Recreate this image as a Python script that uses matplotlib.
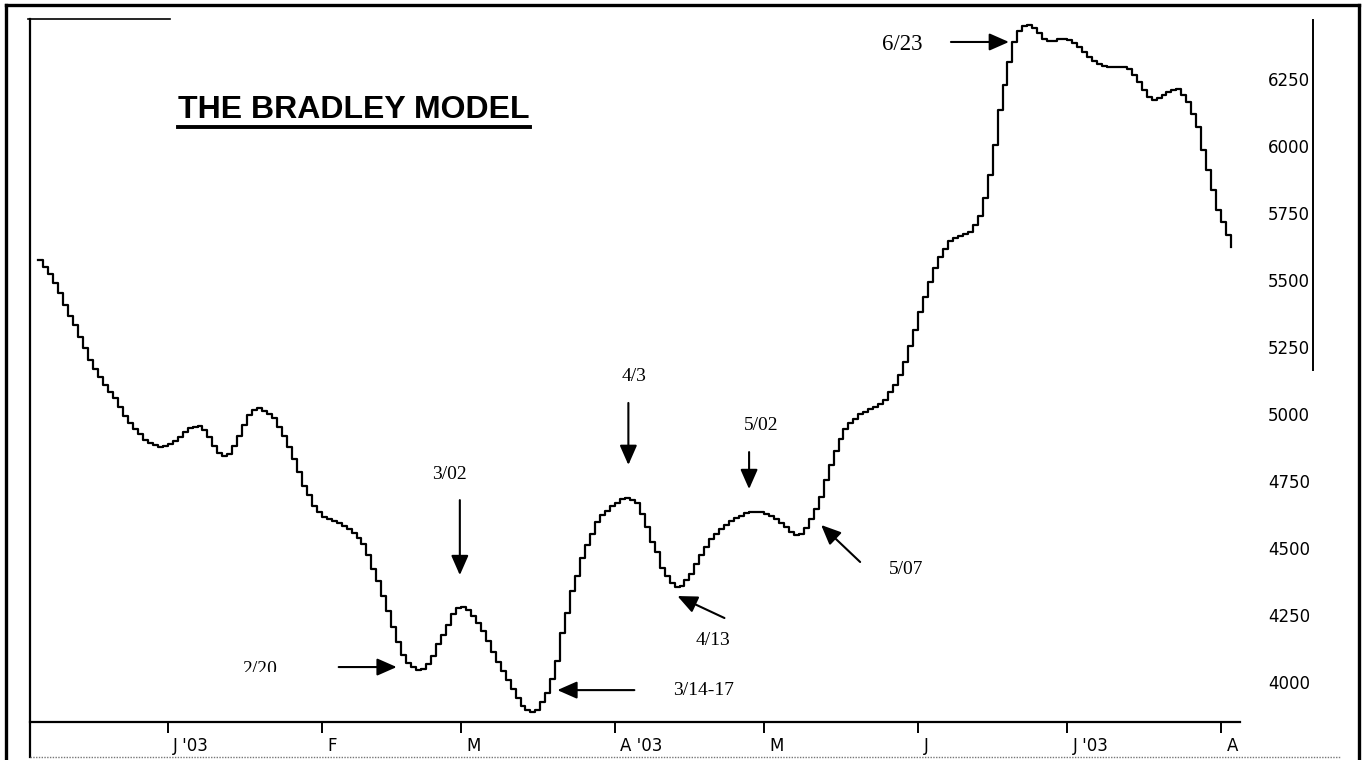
import numpy as np
import pandas as pd
import matplotlib
matplotlib.use("Agg")
import matplotlib.pyplot as plt
import matplotlib.dates as mdates
import matplotlib.transforms as mtrans
from matplotlib.lines import Line2D
from matplotlib.transforms import Bbox, TransformedBbox

# Bradley model values, one per calendar day, starting 2002-12-06
dec_2002 = [5575, 5548, 5522, 5489, 5451, 5407, 5366, 5332, 5287, 5246, 5201, 5168, 5138,
            5108, 5082, 5060, 5026, 4992, 4966, 4944, 4925, 4903, 4892, 4884, 4877, 4880]
jan_2003 = [4888, 4899, 4914, 4932, 4947, 4951, 4955, 4940, 4914, 4880, 4854, 4843, 4851,
            4880, 4918, 4959, 4996, 5015, 5022, 5011, 5000, 4985, 4951, 4918, 4877, 4832,
            4783, 4731, 4698, 4657, 4634]
feb_2003 = [4616, 4608, 4601, 4593, 4582, 4571, 4556, 4537, 4515, 4474, 4422, 4377, 4321,
            4265, 4205, 4149, 4101, 4071, 4056, 4045, 4048, 4067, 4097, 4142, 4175, 4213,
            4254, 4276]
mar_2003 = [4280, 4269, 4247, 4221, 4191, 4153, 4112, 4075, 4041, 4008, 3974, 3941, 3911,
            3896, 3888, 3896, 3925, 3959, 4011, 4078, 4183, 4257, 4340, 4395, 4463, 4511,
            4552, 4597, 4623, 4638, 4657]
apr_2003 = [4668, 4683, 4686, 4679, 4668, 4627, 4578, 4522, 4485, 4425, 4395, 4369, 4354,
            4358, 4380, 4402, 4440, 4474, 4504, 4533, 4552, 4571, 4586, 4601, 4612, 4619,
            4631, 4634, 4634, 4634]
may_2003 = [4626, 4619, 4608, 4593, 4578, 4560, 4549, 4552, 4575, 4608, 4646, 4690, 4754,
            4810, 4862, 4907, 4944, 4966, 4981, 5000, 5007, 5019, 5026, 5037, 5052, 5082,
            5108, 5145, 5194, 5253, 5313]
jun_2003 = [5380, 5436, 5492, 5545, 5586, 5616, 5645, 5656, 5664, 5671, 5679, 5705, 5739,
            5806, 5892, 6003, 6134, 6227, 6313, 6388, 6429, 6447, 6451, 6440, 6421, 6399,
            6392, 6392, 6399, 6399]
jul_2003 = [6395, 6384, 6369, 6351, 6332, 6317, 6306, 6298, 6295, 6295, 6295, 6295, 6287,
            6265, 6239, 6209, 6183, 6171, 6179, 6190, 6201, 6209, 6212, 6190, 6164, 6119,
            6071, 5985, 5910, 5836, 5761]
aug_2003 = [5716, 5667, 5622]

values = dec_2002 + jan_2003 + feb_2003 + mar_2003 + apr_2003 + may_2003 + jun_2003 + jul_2003 + aug_2003
dates = pd.date_range("2002-12-06", periods=len(values), freq="D")

month_ticks = ["2003-01-01", "2003-02-01", "2003-03-01", "2003-04-01",
               "2003-05-01", "2003-06-01", "2003-07-01", "2003-08-01"]
month_labels = ["J '03", "F", "M", "A '03", "M", "J", "J '03", "A"]
y_ticks = [4000, 4250, 4500, 4750, 5000, 5250, 5500, 5750, 6000, 6250]

# (label, arrow tip date, arrow tip value, tail offset px, text offset px, font size)
notes = [
    ("6/23", "2003-06-19 07:00", 6388, (-58, 0), (-107, -3), 16.5),
    ("2/20", "2003-02-16 02:00", 4056, (-58, 0), (-137, -2), 14),
    ("3/02", "2003-02-28 19:00", 4399, (0, 75), (-10, 101), 14),
    ("3/14-17", "2003-03-20 10:00", 3970, (77, 0), (146, 0), 14),
    ("4/3", "2003-04-03 17:00", 4810, (0, 62), (6, 88), 14),
    ("4/13", "2003-04-13 14:00", 4321, (47, -22), (36, -44), 14),
    ("5/02", "2003-04-28 00:00", 4720, (0, 37), (12, 64), 14),
    ("5/07", "2003-05-12 12:00", 4586, (39, -37), (85, -45), 14),
]

W, H = 1363, 760
fig = plt.figure(figsize=(W / 100, H / 100), dpi=100)
fig.patch.set_facecolor("white")


def fx(px):
    return px / W


def fy(py):
    return 1 - py / H


ax = fig.add_axes([fx(30), fy(722), fx(1240) - fx(30), fy(20) - fy(722)])
ax.step(dates, values, where="post", color="black", lw=1.6)

ax.set_xlim(mdates.date2num(pd.Timestamp("2002-12-04 07:00")),
            mdates.date2num(pd.Timestamp("2003-08-04 19:00")))
ax.set_ylim(3851, 6470)

for s in ["top", "right", "left"]:
    ax.spines[s].set_visible(False)
ax.spines["bottom"].set_linewidth(1.6)

ax.set_xticks([pd.Timestamp(m) for m in month_ticks])
ax.set_xticklabels(month_labels, fontsize=12, family="DejaVu Sans", ha="left")
ax.tick_params(axis="x", direction="out", length=8, width=1.4, pad=3)
offset = mtrans.ScaledTranslation(4 / 72, 0, fig.dpi_scale_trans)
for lab in ax.get_xticklabels():
    lab.set_transform(lab.get_transform() + offset)

ax.yaxis.tick_right()
ax.set_yticks(y_ticks)
ax.set_yticklabels([str(v) for v in y_ticks], fontsize=12, family="DejaVu Sans")
ax.tick_params(axis="y", length=0, pad=20)

# arrows and notes
for label, tip, val, tail, txt, size in notes:
    tipx = mdates.date2num(pd.Timestamp(tip))
    ax.annotate("", xy=(tipx, val), xytext=tail, textcoords="offset pixels",
                arrowprops=dict(arrowstyle="-|>,head_length=0.5,head_width=0.22",
                                mutation_scale=24, lw=1.5, color="black",
                                shrinkA=0, shrinkB=0))
    t = ax.annotate(label, xy=(tipx, val), xytext=txt, textcoords="offset pixels",
                    ha="center", va="center", fontsize=size, family="Liberation Serif",
                    annotation_clip=False)
    if label == "2/20":
        # the scan cuts the bottom of this note off
        t.set_clip_on(True)
        t.set_clip_box(TransformedBbox(Bbox([[0, fy(672)], [1, 1]]), fig.transFigure))

# title with underline
title = fig.text(fx(178), fy(110), "THE BRADLEY MODEL", fontsize=23, fontweight="bold",
                 family="Liberation Sans", ha="left", va="center")
fig.canvas.draw()
bb = title.get_window_extent()
fig.add_artist(Line2D([bb.x0 / W, bb.x1 / W], [fy(127), fy(127)],
                      transform=fig.transFigure, color="black", lw=2.8))

# scanned frame lines
frame = dict(transform=fig.transFigure, color="black")
fig.add_artist(Line2D([fx(6), fx(6)], [fy(5), 0], lw=2.4, **frame))
fig.add_artist(Line2D([fx(6), fx(1359)], [fy(5), fy(5)], lw=2.4, **frame))
fig.add_artist(Line2D([fx(1359), fx(1359)], [fy(5), 0], lw=2.4, **frame))
fig.add_artist(Line2D([fx(30), fx(30)], [fy(19), fy(757)], lw=1.6, **frame))
fig.add_artist(Line2D([fx(28), fx(170)], [fy(19), fy(19)], lw=1.2, **frame))
fig.add_artist(Line2D([fx(1313), fx(1313)], [fy(20), fy(370)], lw=1.4, **frame))
fig.add_artist(Line2D([fx(30), fx(1340)], [fy(757), fy(757)], lw=1.0,
                      transform=fig.transFigure, color="#777777", ls=(0, (1, 1))))

fig.savefig("out.png", dpi=100, facecolor="white")
